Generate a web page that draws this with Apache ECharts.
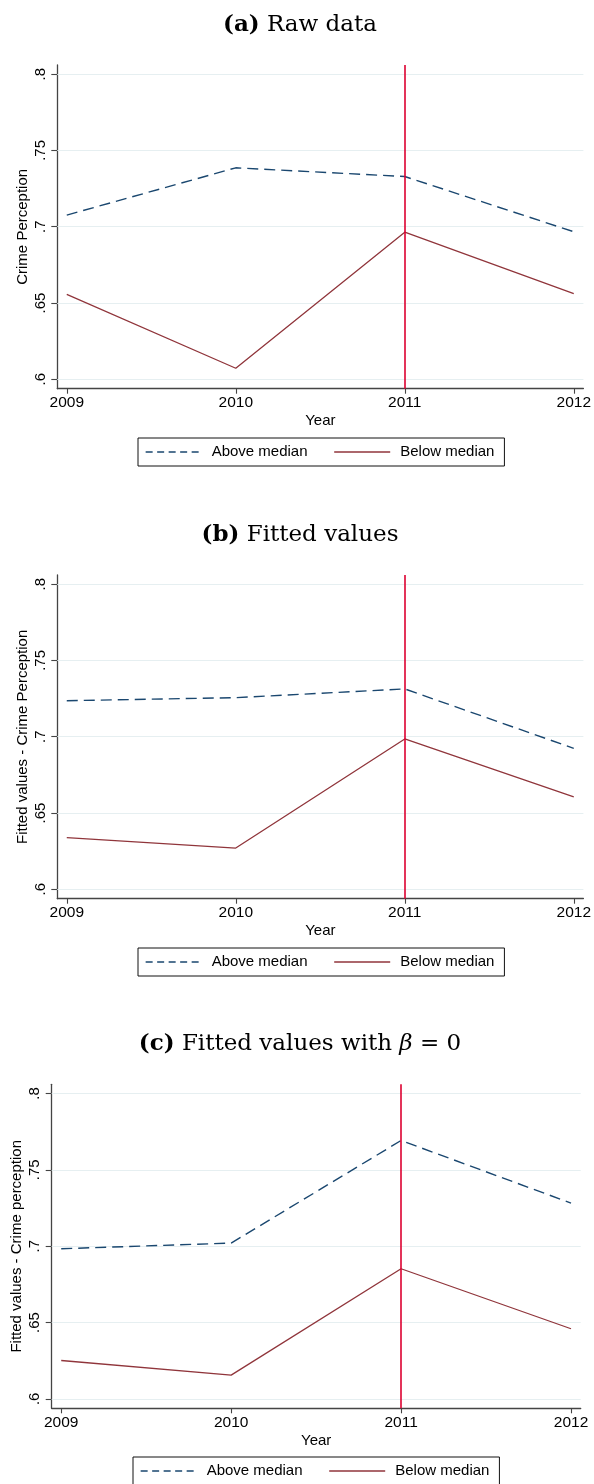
<!DOCTYPE html>
<html>
<head>
<meta charset="utf-8">
<script src="https://cdn.jsdelivr.net/npm/echarts@6/dist/echarts.min.js"></script>
<style>
  html, body { margin: 0; padding: 0; background: #fff; }
  #chart { width: 594px; height: 1484px; }
</style>
</head>
<body>
<div id="chart"></div>
<script>
// Survey years and the year the policy starts
const years = [2009, 2010, 2011, 2012];
const policyYear = 2011;
const seriesNames = ['Above median', 'Below median'];

// (a) raw means
const rawAbove = [0.7076, 0.7386, 0.7329, 0.6967];
const rawBelow = [0.6556, 0.6072, 0.6964, 0.6561];
// (b) fitted values
const fitAbove = [0.7236, 0.7256, 0.7313, 0.6924];
const fitBelow = [0.6339, 0.6270, 0.6985, 0.6605];
// (c) fitted values with beta = 0
const zeroAbove = [0.6983, 0.7020, 0.7692, 0.7282];
const zeroBelow = [0.6251, 0.6155, 0.6852, 0.6459];

const yTicks = [0.6, 0.65, 0.7, 0.75, 0.8];
const xTicks = years;

const panelTitles = [
  '{b|(a)} Raw data',
  '{b|(b)} Fitted values',
  '{b|(c)} Fitted values with {m|β} = 0'
];
const yTitles = [
  'Crime Perception',
  'Fitted values - Crime Perception',
  'Fitted values - Crime perception'
];
const panelData = [
  [rawAbove, rawBelow],
  [fitAbove, fitBelow],
  [zeroAbove, zeroBelow]
];

// layout of the three stacked panels
const layout = [
  { left: 57.3, right: 586, top: 65, bottom: 388.7, titleTop: 11, legendLeft: 138, legendTop: 438 },
  { left: 57.3, right: 586, top: 575, bottom: 898.7, titleTop: 521, legendLeft: 138, legendTop: 948 },
  { left: 51.7, right: 580.7, top: 1084.3, bottom: 1408.3, titleTop: 1030, legendLeft: 133, legendTop: 1457 }
];

const SANS = 'Liberation Sans';
const axisColor = '#444';
const colAbove = '#1a476f';
const colBelow = '#90353b';
const colPolicy = '#dc0030';
const colGrid = '#e6eff1';

const fmtY = v => String(+v.toFixed(2)).replace(/^0/, '');

const option = {
  animation: false,
  backgroundColor: '#fff',
  title: [], grid: [], xAxis: [], yAxis: [], legend: [], series: []
};

layout.forEach((L, i) => {
  option.title.push({
    text: panelTitles[i],
    left: 300, top: L.titleTop, textAlign: 'center', padding: 0,
    textStyle: {
      fontFamily: 'DejaVu Serif', fontSize: 23, fontWeight: 'normal', color: '#000', lineHeight: 28,
      rich: {
        b: { fontFamily: 'DejaVu Serif', fontSize: 23, fontWeight: 'bold', color: '#000', lineHeight: 28 },
        m: { fontFamily: 'DejaVu Serif', fontSize: 23, fontStyle: 'italic', color: '#000', lineHeight: 28 }
      }
    }
  });
  option.grid.push({
    left: L.left, width: L.right - L.left, top: L.top, height: L.bottom - L.top,
    containLabel: false
  });
  option.xAxis.push({
    type: 'value', gridIndex: i, min: 2008.944, max: 2012.057,
    name: 'Year', nameLocation: 'middle', nameGap: 25, nameMoveOverlap: false,
    nameTextStyle: { fontFamily: SANS, fontSize: 15, color: '#000' },
    axisLine: { show: true, onZero: false, lineStyle: { color: axisColor, width: 1.3 } },
    axisTick: { show: true, length: 5, customValues: xTicks, lineStyle: { color: axisColor, width: 1.1 } },
    axisLabel: { customValues: xTicks, fontFamily: SANS, fontSize: 15.5, color: '#000', margin: 6,
                 formatter: v => String(v) },
    splitLine: { show: false }
  });
  option.yAxis.push({
    type: 'value', gridIndex: i, min: 0.5938, max: 0.806,
    name: yTitles[i], nameLocation: 'middle', nameGap: 27, nameRotate: 90, nameMoveOverlap: false,
    nameTextStyle: { fontFamily: SANS, fontSize: 15, color: '#000' },
    axisLine: { show: true, onZero: false, lineStyle: { color: axisColor, width: 1.3 } },
    axisTick: { show: true, length: 6, customValues: yTicks, lineStyle: { color: axisColor, width: 1.1 } },
    axisLabel: { customValues: yTicks, rotate: 90, fontFamily: SANS, fontSize: 15, color: '#000', margin: 9,
                 formatter: fmtY },
    splitLine: { show: false }
  });
  option.legend.push({
    left: L.legendLeft, top: L.legendTop, orient: 'horizontal',
    padding: [6, 10, 6, 7], itemGap: 26, itemWidth: 56, itemHeight: 15,
    borderColor: '#111', borderWidth: 1, borderRadius: 0,
    selectedMode: false,
    textStyle: { fontFamily: SANS, fontSize: 15, color: '#000', lineHeight: 16, padding: [0, 0, 0, 5] },
    data: [
      { name: seriesNames[0], itemStyle: { opacity: 0 },
        lineStyle: { color: colAbove, type: [7, 4.5], width: 1.3, opacity: 1 } },
      { name: seriesNames[1], itemStyle: { opacity: 0 },
        lineStyle: { color: colBelow, type: 'solid', width: 1.3, opacity: 1 } }
    ]
  });
  // horizontal gridlines
  option.series.push({
    type: 'line', name: 'grid' + i, xAxisIndex: i, yAxisIndex: i, data: [], z: 1,
    silent: true,
    markLine: {
      z: 1, silent: true, symbol: ['none', 'none'], label: { show: false }, animation: false,
      lineStyle: { color: colGrid, type: 'solid', width: 1.2 },
      emphasis: { disabled: true },
      data: yTicks.map(v => ({ yAxis: v }))
    }
  });
  const [above, below] = panelData[i];
  option.series.push({
    type: 'line', name: seriesNames[0], xAxisIndex: i, yAxisIndex: i, z: 3,
    data: years.map((y, k) => [y, above[k]]),
    showSymbol: false, symbol: 'none',
    lineStyle: { color: colAbove, type: [11, 6], width: 1.4 },
    itemStyle: { color: colAbove }
  });
  option.series.push({
    type: 'line', name: seriesNames[1], xAxisIndex: i, yAxisIndex: i, z: 3,
    data: years.map((y, k) => [y, below[k]]),
    showSymbol: false, symbol: 'none',
    lineStyle: { color: colBelow, type: 'solid', width: 1.3 },
    itemStyle: { color: colBelow }
  });
  // policy year marker
  option.series.push({
    type: 'line', name: 'policy' + i, xAxisIndex: i, yAxisIndex: i, data: [], z: 4,
    silent: true, color: colPolicy,
    markLine: {
      z: 6, silent: true, symbol: ['none', 'none'], label: { show: false }, animation: false,
      lineStyle: { color: colPolicy, type: 'solid', width: 1.6, opacity: 1 },
      emphasis: { disabled: true },
      data: [{ xAxis: policyYear, lineStyle: { color: colPolicy, width: 1.6 } }]
    }
  });
});

const chart = echarts.init(document.getElementById('chart'), null, { renderer: 'canvas' });
chart.setOption(option);
</script>
</body>
</html>
